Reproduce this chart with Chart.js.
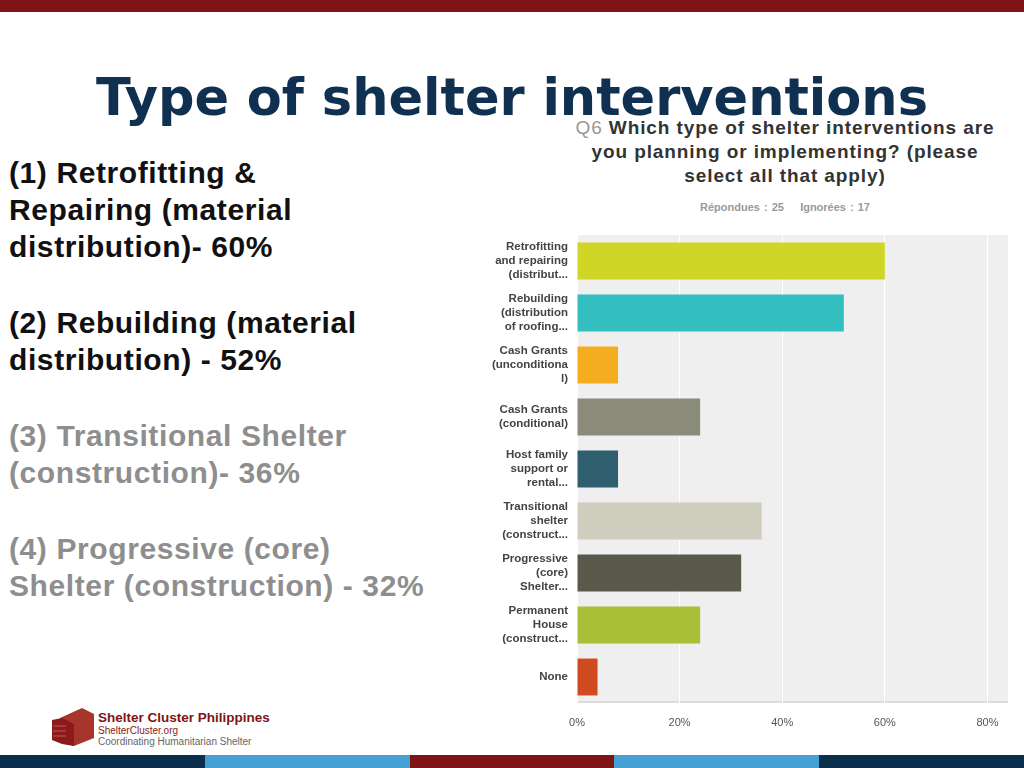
<!DOCTYPE html>
<html>
<head>
<meta charset="utf-8">
<script src="https://cdn.jsdelivr.net/npm/chart.js@4"></script>
<style>
  body { margin: 0; width: 1024px; height: 768px; position: relative; overflow: hidden; background: #fff; font-family: "Liberation Sans", Arial, sans-serif; }
  .topbar { position: absolute; left: 0; top: 0; width: 1024px; height: 12px; background: #7f1416; }
  .bottom { position: absolute; left: 0; top: 755px; width: 1024px; height: 13px; display: flex; }
  .bottom div { flex: 1; }
  h1 { position: absolute; left: 0; width: 1024px; top: 68px; margin: 0; text-align: center; font-family: "DejaVu Sans", Verdana, sans-serif; font-size: 51px; font-weight: bold; color: #0f3050; }
  .left { position: absolute; left: 9px; top: 154px; font-size: 30px; letter-spacing: 0.6px; font-weight: bold; line-height: 37px; color: #111; }
  .left p { margin: 0 0 39px 0; }
  .left .gray { color: #8e8e8e; }
  .qtitle { position: absolute; left: 560px; width: 450px; top: 116px; text-align: center; font-size: 19px; letter-spacing: 0.9px; font-weight: bold; line-height: 24px; color: #333; }
  .qtitle span { color: #999; font-weight: normal; }
  .resp { position: absolute; left: 560px; width: 450px; top: 201px; text-align: center; font-size: 11px; color: #999; font-weight: bold; word-spacing: 1px; }
  #wrap { position: absolute; left: 480px; top: 220px; width: 544px; height: 510px; }
  .logo { position: absolute; left: 52px; top: 708px; }
  .logotext { position: absolute; left: 98px; top: 711px; font-size: 10px; line-height: 11px; color: #666; }
  .logotext b { color: #7f1416; font-size: 13.5px; display: block; line-height: 14px; }
  .logotext .org { color: #8b1a1a; }
</style>
</head>
<body>
<div class="topbar"></div>
<h1>Type of shelter interventions</h1>
<div class="left">
  <p>(1) Retrofitting &amp;<br>Repairing (material<br>distribution)- 60%</p>
  <p>(2) Rebuilding (material<br>distribution) - 52%</p>
  <p class="gray">(3) Transitional Shelter<br>(construction)- 36%</p>
  <p class="gray">(4) Progressive (core)<br>Shelter (construction) - 32%</p>
</div>
<div class="qtitle"><span>Q6</span> Which type of shelter interventions are<br>you planning or implementing? (please<br>select all that apply)</div>
<div class="resp">Répondues : 25 &nbsp;&nbsp; Ignorées : 17</div>
<div id="wrap"><canvas id="chart" width="544" height="510"></canvas></div>
<svg class="logo" width="44" height="40" viewBox="0 0 44 40">
  <polygon points="8,10 30,0 42,6 42,30 22,38 8,34" fill="#a8352b"/>
  <polygon points="0,12 10,10 22,16 22,38 10,36 0,32" fill="#8b1a1a"/>
  <line x1="1" y1="18" x2="14" y2="18" stroke="#c9574b" stroke-width="1"/>
  <line x1="1" y1="23" x2="14" y2="23" stroke="#c9574b" stroke-width="1"/>
  <line x1="1" y1="28" x2="14" y2="28" stroke="#c9574b" stroke-width="1"/>
</svg>
<div class="logotext"><b>Shelter Cluster Philippines</b><span class="org">ShelterCluster.org</span><br>Coordinating Humanitarian Shelter</div>
<div class="bottom">
  <div style="background:#0b2e4c"></div>
  <div style="background:#45a0d4"></div>
  <div style="background:#7f1416"></div>
  <div style="background:#45a0d4"></div>
  <div style="background:#0b2e4c"></div>
</div>
<script>
const categories = [
  ["Retrofitting", "and repairing", "(distribut..."],
  ["Rebuilding", "(distribution", "of roofing..."],
  ["Cash Grants", "(unconditiona", "l)"],
  ["Cash Grants", "(conditional)"],
  ["Host family", "support or", "rental..."],
  ["Transitional", "shelter", "(construct..."],
  ["Progressive", "(core)", "Shelter..."],
  ["Permanent", "House", "(construct..."],
  ["None"]
];
const values = [60, 52, 8, 24, 8, 36, 32, 24, 4];
const barColors = ["#cfd626", "#33bfc0", "#f5ad1f", "#8a8b7a", "#2f5f6e", "#cfcdbe", "#5a594b", "#a9bf37", "#d04a1f"];
const tickValues = [0, 20, 40, 60, 80];

const plotBg = {
  id: "plotBg",
  beforeDraw(chart) {
    const { ctx, chartArea: a } = chart;
    ctx.save();
    ctx.fillStyle = "#efefef";
    ctx.fillRect(a.left, a.top, a.right - a.left, a.bottom - a.top);
    ctx.fillStyle = "#dcdcdc";
    ctx.fillRect(a.left, a.bottom - 2, a.right - a.left, 2);
    ctx.restore();
  }
};

new Chart(document.getElementById("chart"), {
  type: "bar",
  data: {
    labels: categories,
    datasets: [{ data: values, backgroundColor: barColors, barPercentage: 0.71, categoryPercentage: 1 }]
  },
  options: {
    indexAxis: "y",
    responsive: false,
    animation: false,
    layout: { padding: { top: 15, right: 16, left: 0, bottom: 0 } },
    plugins: { legend: { display: false }, tooltip: { enabled: false } },
    scales: {
      x: {
        min: 0,
        max: 84,
        afterBuildTicks(axis) { axis.ticks = tickValues.map(v => ({ value: v })); },
        afterFit(axis) { axis.height = 27; },
        grid: { color: "#ffffff", lineWidth: 1, drawTicks: false },
        border: { display: false },
        ticks: { padding: 13, color: "#555", font: { size: 11, family: "Liberation Sans" }, callback: v => v + "%" }
      },
      y: {
        afterFit(axis) { axis.width = 97; },
        grid: { display: false },
        border: { display: false },
        ticks: { padding: 1, color: "#444", font: { size: 11.5, weight: "bold", family: "Liberation Sans", lineHeight: 1.2 } }
      }
    }
  },
  plugins: [plotBg]
});
</script>
</body>
</html>
